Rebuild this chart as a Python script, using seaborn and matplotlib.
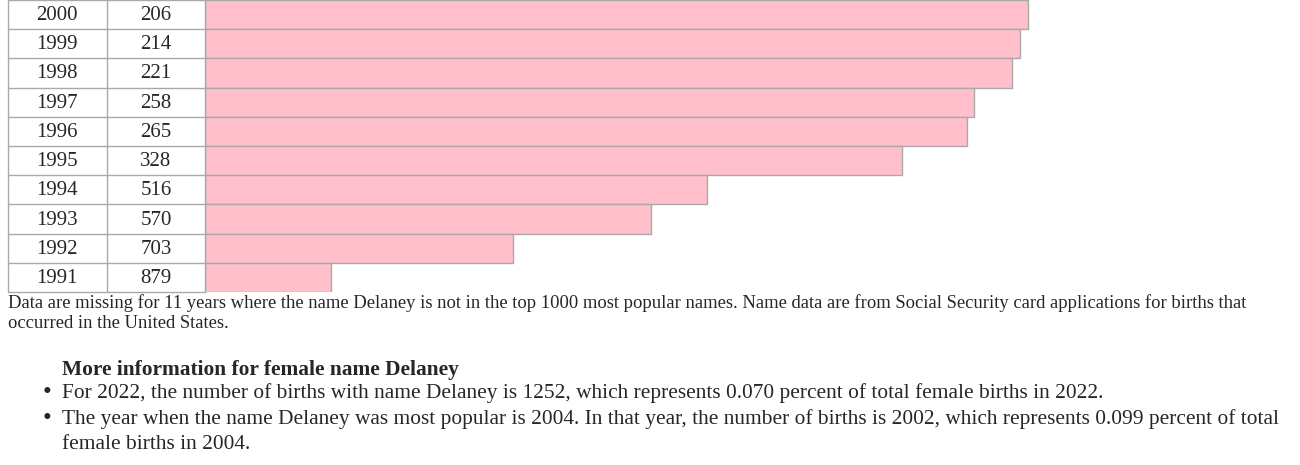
import matplotlib
matplotlib.use('Agg')
import pandas as pd
import seaborn as sns
import matplotlib.pyplot as plt
from matplotlib.lines import Line2D

years = [2000, 1999, 1998, 1997, 1996, 1995, 1994, 1993, 1992, 1991]
ranks = [206, 214, 221, 258, 265, 328, 516, 570, 703, 879]

caption1 = ("Data are missing for 11 years where the name Delaney is not in the top 1000 most popular names. "
            "Name data are from Social Security card applications for births that")
caption2 = "occurred in the United States."
heading = "More information for female name Delaney"
bullet1 = ("For 2022, the number of births with name Delaney is 1252, which represents 0.070 percent "
           "of total female births in 2022.")
bullet2a = ("The year when the name Delaney was most popular is 2004. In that year, the number of births "
            "is 2002, which represents 0.099 percent of total")
bullet2b = "female births in 2004."

W, H = 1300, 465
sns.set_style('white')
plt.rcParams['font.family'] = ['Liberation Serif', 'DejaVu Serif']

df = pd.DataFrame({'year': [str(y) for y in years], 'rank': ranks})
df['score'] = 1001 - df['rank']  # bar length grows as the rank gets better

fig = plt.figure(figsize=(W / 100, H / 100), dpi=100)

def fx(px):
    return px / W

def fy(py):
    return 1 - py / H

row_h = 29.2
top = 0.0
n = len(years)
bottom = top + n * row_h

# bars
ax = fig.add_axes([fx(205), fy(bottom), fx(1241) - fx(205), fy(top) - fy(bottom)])
sns.barplot(data=df, y='year', x='score', orient='h', color='#FFC0CB', width=1.0,
            edgecolor='#a9a9a9', linewidth=1.0, saturation=1, ax=ax)
ax.set_xlim(0, 1001)
ax.set_ylim(n - 0.5, -0.5)
ax.set_axis_off()

# table grid and cells
grid = '#a9a9a9'
for i in range(n + 1):
    y = top + i * row_h
    fig.add_artist(Line2D([fx(8), fx(205)], [fy(y), fy(y)], color=grid, lw=1.0))
for x in [8, 107, 205]:
    fig.add_artist(Line2D([fx(x), fx(x)], [fy(top), fy(bottom)], color=grid, lw=1.0))

for i, (yr, rk) in enumerate(zip(years, ranks)):
    yc = top + (i + 0.5) * row_h + 1
    fig.text(fx(57), fy(yc), str(yr), ha='center', va='center', fontsize=15)
    fig.text(fx(156), fy(yc), str(rk), ha='center', va='center', fontsize=15)

# text below
fig.text(fx(8), fy(303), caption1, ha='left', va='center', fontsize=13.45)
fig.text(fx(8), fy(324), caption2, ha='left', va='center', fontsize=13.45)
fig.text(fx(62), fy(370), heading, ha='left', va='center', fontsize=15.4, fontweight='bold')
for yb, txt in [(393, bullet1), (419, bullet2a)]:
    fig.text(fx(47), fy(yb), '\u2022', ha='center', va='center', fontsize=18)
    fig.text(fx(62), fy(yb), txt, ha='left', va='center', fontsize=15.4)
fig.text(fx(62), fy(444), bullet2b, ha='left', va='center', fontsize=15.4)

fig.savefig('out.png', dpi=100)
